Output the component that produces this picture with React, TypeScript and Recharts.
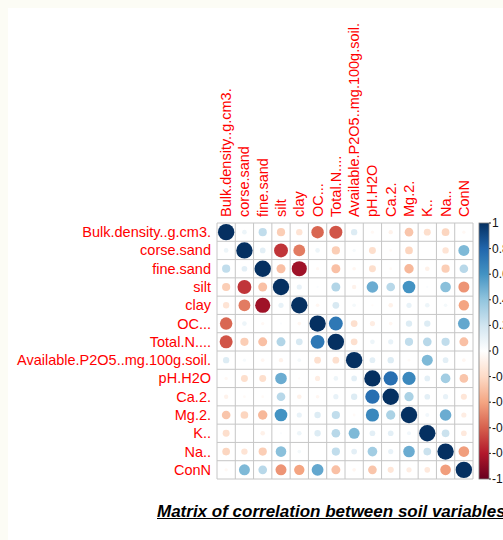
import React from 'react';
import { ScatterChart, Scatter, XAxis, YAxis, ZAxis, CartesianGrid } from 'recharts';

const VARIABLES = [
    'Bulk.density..g.cm3.', 'corse.sand', 'fine.sand', 'silt', 'clay', 'OC...', 'Total.N....',
    'Available.P2O5..mg.100g.soil.', 'pH.H2O', 'Ca.2.', 'Mg.2.', 'K..', 'Na..', 'ConN'
];

// correlation rows (same order as VARIABLES)
const BULK = [1, 0.08, 0.25, -0.25, -0.15, -0.58, -0.63, 0.15, -0.04, -0.07, -0.28, -0.18, -0.22, -0.04];
const CORSE = [0.08, 1, 0.12, -0.72, -0.52, 0.08, -0.25, 0.04, -0.18, -0.03, -0.22, 0, -0.15, 0.45];
const FINE = [0.25, 0.12, 1, -0.3, -0.85, -0.04, -0.3, -0.05, -0.18, -0.03, -0.33, -0.08, -0.25, 0.28];
const SILT = [-0.25, -0.72, -0.3, 1, 0.1, 0.02, 0.3, -0.07, 0.5, 0.28, 0.6, 0.02, 0.42, -0.45];
const CLAY = [-0.15, -0.52, -0.85, 0.1, 1, -0.05, 0.17, 0.05, -0.02, -0.08, 0.1, 0.08, 0.05, -0.4];
const OC = [-0.58, 0.08, -0.04, 0.02, -0.05, 1, 0.72, -0.17, -0.1, -0.05, 0.15, 0.15, 0, 0.52];
const TOTAL_N = [-0.63, -0.25, -0.3, 0.3, 0.17, 0.72, 1, -0.17, 0.08, 0.1, 0.25, 0.28, 0.25, -0.3];
const AVAIL_P = [0.15, 0.04, -0.05, -0.07, 0.05, -0.17, -0.17, 1, 0.12, 0.15, -0.03, 0.45, 0.12, -0.05];
const PH = [-0.04, -0.18, -0.18, 0.5, -0.02, -0.1, 0.08, 0.12, 1, 0.76, 0.65, 0.12, 0.35, -0.28];
const CA = [-0.07, -0.03, -0.03, 0.28, -0.08, -0.05, 0.1, 0.15, 0.76, 1, 0.32, 0.12, 0.1, -0.14];
const MG = [-0.28, -0.22, -0.33, 0.6, 0.1, 0.15, 0.25, -0.03, 0.65, 0.32, 1, 0.06, 0.5, -0.1];
const K = [-0.18, 0, -0.08, 0.02, 0.08, 0.15, 0.28, 0.45, 0.12, 0.12, 0.06, 1, 0.22, -0.12];
const NA = [-0.22, -0.15, -0.25, 0.42, 0.05, 0, 0.25, 0.12, 0.35, 0.1, 0.5, 0.22, 1, -0.42];
const CONN = [-0.04, 0.45, 0.28, -0.45, -0.4, 0.52, -0.3, -0.05, -0.28, -0.14, -0.1, -0.12, -0.42, 1];

const ROWS = [BULK, CORSE, FINE, SILT, CLAY, OC, TOTAL_N, AVAIL_P, PH, CA, MG, K, NA, CONN];

const CENTERS = [0.5, 1.5, 2.5, 3.5, 4.5, 5.5, 6.5, 7.5, 8.5, 9.5, 10.5, 11.5, 12.5, 13.5];
const EDGES = [0, 1, 2, 3, 4, 5, 6, 7, 8, 9, 10, 11, 12, 13, 14];
const LEGEND_TICKS = [1, 0.8, 0.6, 0.4, 0.2, 0, -0.2, -0.4, -0.6, -0.8, -1];

// corrplot RdBu ramp, from -1 to 1
const PALETTE = [
    '#67001F', '#B2182B', '#D6604D', '#F4A582', '#FDDBC7', '#FFFFFF',
    '#D1E5F0', '#92C5DE', '#4393C3', '#2166AC', '#053061'
];

const FONT = '"Liberation Sans", Arial, sans-serif';
const LABEL_RED = '#ff0000';

const hexToRgb = (h: string) => [1, 3, 5].map(i => parseInt(h.slice(i, i + 2), 16));

const colorFor = (v: number) => {
    const t = ((Math.max(-1, Math.min(1, v)) + 1) / 2) * (PALETTE.length - 1);
    const i = Math.min(Math.floor(t), PALETTE.length - 2);
    const f = t - i;
    const a = hexToRgb(PALETTE[i]);
    const b = hexToRgb(PALETTE[i + 1]);
    const c = a.map((x, k) => Math.round(x + (b[k] - x) * f));
    return `rgb(${c[0]},${c[1]},${c[2]})`;
};

const cells = ROWS.flatMap((row, i) =>
    row.map((v, j) => ({ x: CENTERS[j], y: CENTERS[i], v, z: Math.abs(v) }))
);

// invisible points that tie the legend axis to the chart so its ticks get drawn
const legendAnchor = LEGEND_TICKS.map(t => ({ x: 0, c: t }));

const CircleCell = (props: any) => {
    const { cx, cy, width, payload } = props;
    if (!width) return null;
    return <circle cx={cx} cy={cy} r={width / 2} fill={colorFor(payload.v)} />;
};

const ColumnTick = (props: any) => {
    const { x, y, payload } = props;
    return (
        <text x={x} y={y} transform={`rotate(-90 ${x} ${y})`} textAnchor="start"
            dominantBaseline="central" fill={LABEL_RED} fontSize={14.5} fontFamily={FONT}>
            {VARIABLES[Math.floor(payload.value)]}
        </text>
    );
};

const RowTick = (props: any) => {
    const { x, y, payload } = props;
    return (
        <text x={x} y={y} textAnchor="end" dominantBaseline="central"
            fill={LABEL_RED} fontSize={14.5} fontFamily={FONT}>
            {VARIABLES[Math.floor(payload.value)]}
        </text>
    );
};

const LegendTick = (props: any) => {
    const { x, y, payload } = props;
    return (
        <g>
            <line x1={x + 16} x2={x + 18} y1={y} y2={y} stroke="#222" strokeWidth={1} />
            <text x={x + 19} y={y} textAnchor="start" dominantBaseline="central"
                fill="#111" fontSize={12} fontFamily={FONT}>
                {String(payload.value)}
            </text>
        </g>
    );
};

// layout of the plot area
const W = 503;
const H = 540;
const LEFT = 217;
const TOP = 223;
const SIDE = 256;

export default function App() {
    return (
        <div style={{ position: 'absolute', left: 0, top: 0, width: W, height: H, background: '#fcfcf5' }}>
            <div style={{ position: 'absolute', left: 8, top: 8, width: W - 8, height: H - 8, background: '#fff' }} />
            <div style={{ position: 'absolute', left: 0, top: 0 }}>
                <ScatterChart width={W} height={H} margin={{ top: 0, right: 0, bottom: H - TOP - SIDE, left: 0 }}>
                    <defs>
                        <linearGradient id="cbar" x1="0" y1="0" x2="0" y2="1">
                            {PALETTE.slice().reverse().map((c, k) => (
                                <stop key={k} offset={`${(k / (PALETTE.length - 1)) * 100}%`} stopColor={c} />
                            ))}
                        </linearGradient>
                    </defs>
                    <CartesianGrid horizontalValues={EDGES} verticalValues={EDGES} stroke="#c6c6c6" strokeWidth={1} />
                    <XAxis type="number" dataKey="x" orientation="top" domain={[0, 14]} ticks={CENTERS}
                        interval={0} height={TOP} axisLine={false} tickLine={false} tickSize={0} tickMargin={6}
                        tick={<ColumnTick />} allowDataOverflow />
                    <YAxis type="number" dataKey="y" domain={[0, 14]} reversed ticks={CENTERS} interval={0}
                        width={LEFT} axisLine={false} tickLine={false} tickSize={0} tickMargin={6}
                        tick={<RowTick />} allowDataOverflow />
                    <YAxis yAxisId="cb" dataKey="c" orientation="right" type="number" domain={[-1, 1]}
                        ticks={LEGEND_TICKS} interval={0} width={W - LEFT - SIDE} axisLine={false}
                        tickLine={false} tickSize={0} tickMargin={0} tick={<LegendTick />} allowDataOverflow />
                    <ZAxis type="number" dataKey="z" domain={[0, 1]} range={[0, 211]} />
                    <ZAxis zAxisId="none" type="number" range={[0, 0]} />
                    <Scatter data={cells} shape={<CircleCell />} isAnimationActive={false} />
                    <Scatter data={legendAnchor} yAxisId="cb" zAxisId="none" shape={() => null}
                        isAnimationActive={false} />
                    <rect x={LEFT + SIDE + 6} y={TOP} width={10} height={SIDE} fill="url(#cbar)"
                        stroke="#7a7a7a" strokeWidth={0.8} />
                </ScatterChart>
            </div>
            <div style={{
                position: 'absolute', left: 157, top: 502, whiteSpace: 'nowrap',
                fontFamily: FONT, fontSize: 17, fontWeight: 'bold', fontStyle: 'italic',
                textDecoration: 'underline', color: '#000'
            }}>
                Matrix of correlation between soil variables
            </div>
        </div>
    );
}
